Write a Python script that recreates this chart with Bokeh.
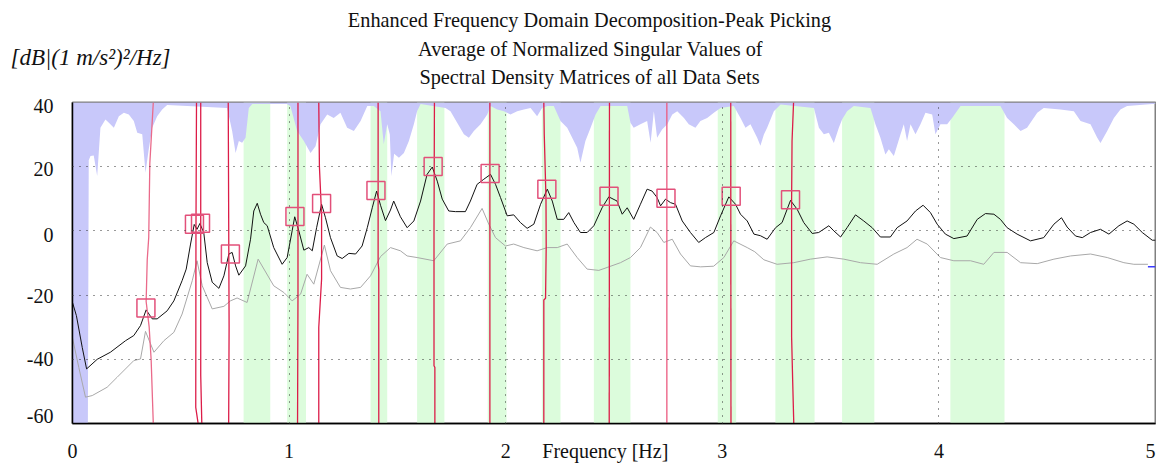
from bokeh.plotting import figure
from bokeh.models import Range1d, FixedTicker, ColumnDataSource
from bokeh.embed import file_html
from bokeh.resources import INLINE
from bokeh.core.properties import value

# ---------------- data ----------------
title_lines = ["Enhanced Frequency Domain Decomposition-Peak Picking",
               "Average of Normalized Singular Values of",
               "Spectral Density Matrices of all Data Sets"]
y_unit = "[dB|(1 m/s\u00b2)\u00b2/Hz]"
x_label = "Frequency [Hz]"
x_tick_labels = ["0", "1", "2", "3", "4", "5"]
y_tick_labels = ["40", "20", "0", "-20", "-40", "-60"]

sv1_f = [0.000, 0.018, 0.045, 0.065, 0.114, 0.175, 0.245, 0.283, 0.314, 0.340, 0.368, 0.391, 0.437, 0.468,
         0.506, 0.525, 0.545, 0.562, 0.575, 0.588, 0.606, 0.622, 0.645, 0.676, 0.699, 0.722, 0.737, 0.753,
         0.768, 0.799, 0.822, 0.837, 0.853, 0.868, 0.883, 0.899, 0.929, 0.968, 0.991, 1.014, 1.026, 1.045,
         1.068, 1.091, 1.107, 1.127, 1.150, 1.168, 1.191, 1.222, 1.245, 1.276, 1.307, 1.337, 1.361, 1.384,
         1.404, 1.422, 1.445, 1.468, 1.483, 1.514, 1.545, 1.576, 1.607, 1.637, 1.661, 1.684, 1.707, 1.737,
         1.768, 1.814, 1.837, 1.868, 1.899, 1.930, 1.953, 1.976, 2.007, 2.037, 2.068, 2.099, 2.130, 2.161,
         2.192, 2.215, 2.238, 2.268, 2.291, 2.315, 2.345, 2.376, 2.407, 2.445, 2.476, 2.514, 2.538, 2.561,
         2.591, 2.622, 2.653, 2.676, 2.699, 2.715, 2.738, 2.761, 2.784, 2.815, 2.853, 2.891, 2.922, 2.961,
         2.992, 3.030, 3.061, 3.084, 3.115, 3.146, 3.176, 3.207, 3.246, 3.276, 3.315, 3.346, 3.376, 3.415,
         3.445, 3.492, 3.515, 3.546, 3.576, 3.615, 3.653, 3.692, 3.730, 3.776, 3.807, 3.853, 3.892, 3.927,
         3.961, 3.992, 4.030, 4.069, 4.130, 4.177, 4.215, 4.254, 4.284, 4.315, 4.361, 4.423, 4.484, 4.531,
         4.566, 4.592, 4.631, 4.662, 4.700, 4.746, 4.785, 4.831, 4.869, 4.900, 4.939, 4.985, 5.000]
sv1_db = [-22.3, -26.4, -36.3, -43.0, -40.0, -37.8, -34.2, -32.6, -29.5, -24.6, -27.4, -27.4, -24.9, -21.8,
          -15.5, -11.9, -4.1, 2.0, 0.5, 2.3, -0.5, -9.9, -16.0, -17.9, -14.0, -7.2, -6.7, -10.9,
          -13.8, -10.9, -2.6, 6.2, 8.6, 5.2, 2.6, 1.6, -5.2, -10.4, -8.3, 0.0, 4.4, 0.0,
          -6.0, -5.2, -6.2, 1.0, 8.3, 4.1, -2.1, -7.8, -8.6, -7.0, -7.2, -4.7, 1.0, 7.2,
          12.4, 8.0, 3.2, 6.5, 9.3, 4.4, 1.0, 3.1, 9.3, 17.6, 19.9, 15.5, 9.9, 6.2,
          6.0, 6.0, 9.3, 14.5, 16.1, 17.6, 14.5, 10.4, 4.7, 5.0, 2.6, 0.8, 2.1, 8.3,
          13.0, 9.3, 3.6, 3.6, 5.7, 2.6, -0.5, -0.5, 1.6, 7.2, 10.6, 9.3, 5.2, 7.2,
          3.6, 8.3, 13.0, 12.4, 10.4, 7.8, 9.9, 8.8, 8.3, 3.1, -0.5, -3.6, -2.1, -0.5,
          4.7, 10.6, 8.3, 5.2, 3.1, -1.0, -1.5, -2.6, 1.0, 2.6, 9.5, 6.7, 2.6, -0.8,
          -0.5, 1.6, 0.0, -1.9, 1.0, 5.0, 3.1, 1.0, -1.9, -1.9, 1.0, 3.1, 6.2, 8.0,
          5.7, 2.1, -1.0, -2.4, -1.6, 3.6, 5.4, 5.2, 3.6, 1.0, -1.0, -3.1, -2.1, 2.1,
          4.1, 1.2, -1.6, -2.1, -0.5, 0.5, -1.0, 1.6, 3.1, 2.1, -0.5, -2.9, -2.9]

sv2_f = [0.000, 0.029, 0.060, 0.091, 0.160, 0.206, 0.283, 0.314, 0.337, 0.376, 0.422, 0.468, 0.506, 0.553,
         0.575, 0.599, 0.645, 0.699, 0.729, 0.760, 0.806, 0.857, 0.929, 0.976, 1.014, 1.053, 1.083, 1.114,
         1.163, 1.191, 1.237, 1.283, 1.330, 1.376, 1.422, 1.468, 1.514, 1.545, 1.591, 1.668, 1.730, 1.791,
         1.837, 1.891, 1.922, 1.953, 1.999, 2.037, 2.084, 2.145, 2.192, 2.238, 2.284, 2.330, 2.376, 2.430,
         2.468, 2.530, 2.576, 2.622, 2.668, 2.699, 2.730, 2.769, 2.807, 2.853, 2.900, 2.960, 3.007, 3.053,
         3.115, 3.150, 3.192, 3.253, 3.330, 3.407, 3.484, 3.561, 3.638, 3.715, 3.792, 3.853, 3.899, 3.946,
         4.007, 4.069, 4.146, 4.207, 4.254, 4.315, 4.377, 4.454, 4.531, 4.608, 4.700, 4.777, 4.854, 4.900,
         4.965]
sv2_db = [-33.4, -42.5, -51.8, -51.3, -48.7, -45.6, -40.4, -39.9, -31.3, -37.8, -34.2, -31.6, -25.9, -15.5,
          -9.3, -17.1, -24.3, -23.5, -21.8, -20.9, -22.3, -8.8, -17.1, -19.2, -21.8, -19.7, -13.5, -16.6,
          -4.4, -12.4, -17.6, -18.1, -17.6, -14.0, -8.0, -5.2, -6.2, -7.8, -8.3, -9.3, -4.1, -3.1,
          1.0, 7.0, 2.1, -2.1, -4.7, -4.1, -5.2, -6.2, -5.2, -5.2, -4.1, -8.3, -11.9, -12.3,
          -11.4, -9.9, -8.3, -5.2, 1.2, -0.5, -3.6, -2.6, -7.2, -10.9, -11.2, -11.0, -8.3, -3.1,
          -5.2, -6.5, -9.0, -10.4, -9.9, -8.8, -8.1, -8.8, -9.9, -10.4, -7.2, -5.2, -2.6, -4.1,
          -8.3, -9.3, -9.3, -10.4, -6.7, -6.7, -9.9, -10.2, -8.8, -7.8, -7.2, -8.3, -9.9, -10.4,
          -10.4]
tail_f = [4.965, 5.0]
tail_db = [-11.2, -11.2]

# lower edge of the upper (lavender) shaded area, dB
shade_f = [0.000, 0.071, 0.075, 0.083, 0.098, 0.114, 0.129, 0.152, 0.168, 0.191, 0.214, 0.237, 0.260, 0.283,
           0.299, 0.322, 0.337, 0.352, 0.368, 0.391, 0.414, 0.437, 0.714, 0.737, 0.753, 0.768, 0.783, 0.799,
           0.814, 0.830, 0.990, 1.006, 1.037, 1.068, 1.099, 1.122, 1.145, 1.176, 1.206, 1.237, 1.268, 1.299,
           1.330, 1.361, 1.391, 1.422, 1.437, 1.453, 1.465, 1.472, 1.485, 1.507, 1.530, 1.553, 1.576, 1.591,
           1.607, 1.722, 1.745, 1.776, 1.807, 1.830, 1.853, 1.884, 1.915, 1.930, 1.961, 1.992, 2.022, 2.053,
           2.084, 2.115, 2.145, 2.168, 2.192, 2.222, 2.253, 2.284, 2.307, 2.330, 2.345, 2.368, 2.392, 2.415,
           2.438, 2.561, 2.576, 2.591, 2.622, 2.653, 2.669, 2.684, 2.699, 2.722, 2.746, 2.769, 2.792, 2.823,
           2.845, 2.876, 2.899, 2.930, 2.961, 2.992, 3.053, 3.084, 3.107, 3.130, 3.161, 3.176, 3.192, 3.207,
           3.238, 3.269, 3.423, 3.446, 3.469, 3.492, 3.515, 3.538, 3.553, 3.576, 3.607, 3.684, 3.707, 3.730,
           3.753, 3.769, 3.792, 3.823, 3.838, 3.853, 3.869, 3.892, 3.915, 3.938, 3.969, 3.984, 4.007, 4.038,
           4.061, 4.100, 4.284, 4.315, 4.346, 4.377, 4.407, 4.454, 4.484, 4.561, 4.623, 4.654, 4.700, 4.731,
           4.746, 4.777, 4.808, 4.838, 4.869, 5.000]
shade_db = [-60.0, -60.0, 22.0, 23.3, 23.5, 17.1, 32.1, 34.7, 33.7, 32.1, 35.7, 36.8, 36.3, 34.2,
            30.6, 30.1, 18.1, 25.4, 32.1, 35.7, 37.8, 39.2, 38.3, 31.1, 24.3, 28.0, 27.5, 29.0,
            38.3, 39.5, 39.5, 38.9, 31.1, 28.0, 24.3, 26.4, 33.2, 36.3, 35.2, 36.8, 32.1, 31.1,
            34.2, 38.9, 38.9, 37.3, 27.0, 33.2, 30.0, 17.0, 24.0, 22.8, 24.3, 28.0, 33.2, 37.3,
            39.5, 38.3, 37.3, 33.7, 30.1, 29.0, 31.1, 33.2, 36.3, 38.9, 37.8, 37.3, 36.3, 37.3,
            37.8, 38.3, 35.7, 38.3, 38.9, 38.9, 34.2, 32.1, 29.0, 25.9, 21.2, 28.0, 32.1, 36.3,
            38.9, 38.9, 33.7, 32.1, 33.2, 34.2, 27.5, 37.3, 29.0, 31.6, 33.2, 36.3, 37.3, 35.2,
            33.2, 32.1, 34.2, 35.2, 36.8, 38.3, 38.9, 35.2, 32.1, 33.2, 29.0, 26.5, 30.0, 32.1,
            37.3, 39.4, 38.3, 32.1, 30.1, 30.6, 27.4, 32.1, 34.7, 37.3, 38.9, 38.3, 33.2, 29.0,
            23.8, 25.4, 23.3, 30.1, 33.2, 28.0, 33.2, 30.1, 33.2, 36.8, 36.3, 30.1, 33.2, 33.2,
            35.2, 38.9, 38.9, 35.2, 33.2, 31.1, 32.1, 36.8, 38.3, 37.8, 37.3, 34.2, 33.2, 29.0,
            27.4, 31.1, 35.2, 37.8, 38.9, 39.6]

band_left = [0.790, 0.991, 1.376, 1.591, 1.917, 2.167, 2.407, 2.979, 3.245, 3.553, 4.053]
band_right = [0.913, 1.078, 1.453, 1.717, 2.004, 2.253, 2.576, 3.064, 3.426, 3.702, 4.303]

peak_f = [0.339, 0.563, 0.591, 0.729, 1.027, 1.150, 1.401, 1.665, 1.928, 2.190, 2.477, 2.740, 3.041, 3.315]
peak_db = [-24.0, 2.1, 2.4, -7.2, 4.45, 8.5, 12.6, 20.1, 17.9, 13.0, 10.8, 10.2, 10.8, 9.7]

mode_xs = [[0.373, 0.357, 0.352, 0.345, 0.340, 0.354, 0.363, 0.373],
           [0.5725, 0.570, 0.569, 0.580],
           [0.592, 0.592, 0.597],
           [0.719, 0.723, 0.721],
           [1.041, 1.041, 1.039],
           [1.137, 1.140, 1.150, 1.150, 1.137, 1.137],
           [1.411, 1.411, 1.414, 1.414],
           [1.671, 1.669, 1.669, 1.673, 1.673],
           [1.927, 1.927],
           [2.176, 2.178, 2.186, 2.187, 2.184, 2.176, 2.176],
           [2.479, 2.478],
           [2.744, 2.744],
           [3.039, 3.040],
           [3.329, 3.322, 3.320, 3.320, 3.325, 3.330]]
mode_ys = [[40, 21, -2, -9, -22, -30, -40, -60],
           [40, 0, -55, -60],
           [40, -45, -60],
           [40, -30, -60],
           [40, -20, -60],
           [40, 20, 5, -15, -30, -60],
           [40, -10, -12, -60],
           [40, 0, -42, -42.5, -60],
           [40, -60],
           [40, 30, 10, -5, -21, -21.5, -60],
           [40, -60],
           [40, -60],
           [40, -60],
           [40, 28, 10, -33, -47, -60]]
mode_colors = ["#ea6a8a", "#dc1c48", "#dc1c48", "#dc1c48", "#dc1c48", "#dc1c48", "#dc1c48",
               "#dc1c48", "#dc1c48", "#dc1c48", "#dc1c48", "#ec5a80", "#dc1c48", "#dc1c48"]

# ---------------- layout / style ----------------
FONT = "Liberation Serif"
TXT = "#111111"
x_label_pos = [0, 1, 2, 3, 4, 4.977]
x_name_pos = 2.46
y_label_pos = [38.9, 19.4, -1.4, -20.4, -39.9, -57.6]

# header canvas (pixel coordinates) holding the title and the unit text
hdr = figure(width=1156, height=90, x_range=Range1d(0, 1156), y_range=Range1d(90, 0),
             x_axis_type=None, y_axis_type=None, toolbar_location=None, output_backend="svg",
             min_border=0, min_border_left=0, min_border_right=0, min_border_top=0, min_border_bottom=0)
hdr.outline_line_color = None
hdr.xgrid.visible = False
hdr.ygrid.visible = False
hdr.text(x=[589, 590, 589], y=[19, 48, 76], text=title_lines, text_align="center",
         text_baseline="middle", text_font=value(FONT), text_font_size="20.3px", text_color=TXT)
hdr.text(x=[10], y=[57], text=[y_unit], text_align="left", text_baseline="middle",
         text_font=value(FONT), text_font_size="23px", text_font_style="italic", text_color=TXT)

p = figure(width=1156, height=377, output_backend="svg", toolbar_location=None,
           x_range=Range1d(0, 5), y_range=Range1d(-60, 40),
           min_border_left=72, min_border_right=1, min_border_top=12, min_border_bottom=44)
p.background_fill_color = "white"
p.border_fill_color = "white"
p.outline_line_color = "#808080"
p.outline_line_width = 2

p.quad(left=band_left, right=band_right, bottom=-60, top=40, fill_color="#dcfcdc", line_color=None)
p.varea(x=shade_f, y1=shade_db, y2=40, fill_color="#c8c8fa")
p.line(sv2_f, sv2_db, line_color="#a8a8a8", line_width=1)
p.line(tail_f, tail_db, line_color="#3c3cff", line_width=1.5)
p.line(sv1_f, sv1_db, line_color="#111111", line_width=1)
p.multi_line(xs="xs", ys="ys", line_color="c", line_width=1.3,
             source=ColumnDataSource(dict(xs=mode_xs, ys=mode_ys, c=mode_colors)))
p.rect(x=peak_f, y=peak_db, width=18, height=18, width_units="screen", height_units="screen",
       fill_color=None, line_color="#e2507a", line_width=1.5)

for ax in (p.xaxis[0], p.yaxis[0]):
    ax.axis_line_color = "black"
    ax.axis_line_width = 1.5
    ax.major_tick_line_color = None
    ax.minor_tick_line_color = None
    ax.major_tick_out = 0
    ax.major_tick_in = 0
    ax.major_label_text_font = FONT
    ax.major_label_text_font_size = "20px"
    ax.major_label_text_color = TXT

xt = x_label_pos[:3] + [x_name_pos] + x_label_pos[3:]
p.xaxis.ticker = FixedTicker(ticks=xt)
xo = {t: s for t, s in zip(x_label_pos, x_tick_labels)}
xo[x_name_pos] = x_label
p.xaxis.major_label_overrides = xo
p.xaxis.major_label_standoff = 16

p.yaxis.ticker = FixedTicker(ticks=sorted(y_label_pos))
p.yaxis.major_label_overrides = {t: s for t, s in zip(y_label_pos, y_tick_labels)}
p.yaxis.major_label_standoff = 19

p.xgrid.ticker = FixedTicker(ticks=[1, 2, 3, 4])
p.ygrid.ticker = FixedTicker(ticks=[-40, -20, 0, 20])
for g in (p.xgrid[0], p.ygrid[0]):
    g.grid_line_color = "#333333"
    g.grid_line_dash = "1 6"
    g.grid_line_width = 1
    g.level = "overlay"

open("out.html", "w").write(file_html([hdr, p], INLINE))
